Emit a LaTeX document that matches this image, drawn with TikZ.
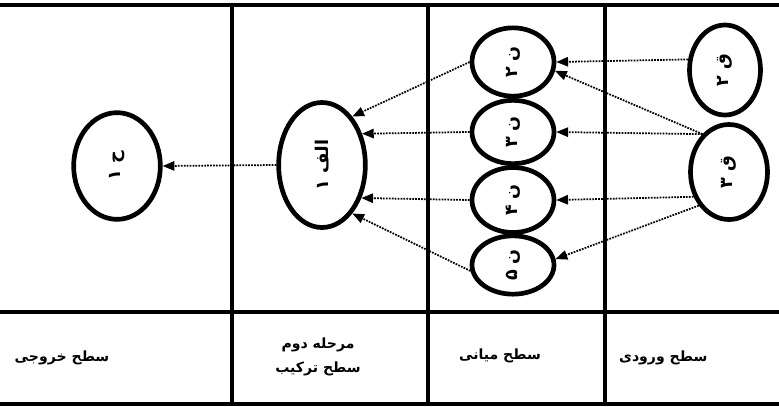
\documentclass[tikz,border=0pt]{standalone}
\usepackage{fontspec}
\usepackage{graphicx}
\usepackage{tikz}
\usetikzlibrary{arrows.meta, shapes.geometric, positioning}
\newfontfamily\arabicfont[Script=Arabic]{DejaVu Sans}
\TeXXeTstate=1
\newcommand{\rl}[1]{\beginR #1\endR}
\newcommand{\vlabel}[1]{\rotatebox{90}{\rl{#1}}}

\tikzset{
  cellline/.style={line width=2.8pt},
  bubble/.style={ellipse, draw, line width=4pt, inner sep=0pt,
    font=\arabicfont\bfseries\fontsize{15}{17}\selectfont},
  link/.style={densely dotted, line width=1.5pt,
    -{Triangle[length=10pt,width=8pt]}},
  levelname/.style={font=\arabicfont\bfseries\fontsize{12}{14}\selectfont, align=center}
}

\begin{document}
\begin{tikzpicture}[x=0.03cm, y=-0.03cm]
    \useasboundingbox (0,0) rectangle (779,406);

    % table lines
    \draw[cellline] (0,5) -- (779,5);
    \draw[cellline] (0,312) -- (779,312);
    \draw[cellline] (0,404) -- (779,404);
    \foreach \gx in {232, 428, 605}
        \draw[cellline] (\gx,5) -- (\gx,404);

    % first column
    \node[bubble, minimum width=2.6cm, minimum height=3.2cm] (r1) at (117,166) {\vlabel{ح ۱}};

    % second column
    \node[bubble, minimum width=2.6cm, minimum height=3.75cm] (a1) at (322,165) {\vlabel{الف ۱}};

    % third column
    \node[bubble, minimum width=2.46cm, minimum height=2.05cm] (n2) at (513,62) {\vlabel{ن ۲}};
    \node[bubble, minimum width=2.46cm, minimum height=1.9cm] (n3) at (513,132) {\vlabel{ن ۳}};
    \node[bubble, minimum width=2.46cm, minimum height=1.95cm] (n4) at (513,200) {\vlabel{ن ۴}};
    \node[bubble, minimum width=2.46cm, minimum height=1.75cm] (n5) at (513,265) {\vlabel{ن ۵}};

    % fourth column
    \node[bubble, minimum width=2.13cm, minimum height=2.7cm] (q2) at (725,70) {\vlabel{ق ۲}};
    \node[bubble, minimum width=2.31cm, minimum height=2.85cm] (q3) at (729,172) {\vlabel{ق ۳}};

    % links
    \draw[link] (q2.164) -- (n2.east);
    \draw[link] (q3.125) -- (n2.-12);
    \draw[link] (q3.125) -- (n3.east);
    \draw[link] (q3.215) -- (n4.east);
    \draw[link] (q3.228) -- (n5.8);

    \draw[link] (n2.west) -- (a1.58);
    \draw[link] (n3.west) -- (a1.38);
    \draw[link] (n4.west) -- (a1.-40);
    \draw[link] (n5.188) -- (a1.-58);

    \draw[link] (a1.west) -- (r1.east);

    % level names
    \node[levelname] (t1) at (62,358) {\rl{سطح خروجی}};
    \node[levelname] (t2) at (318,357) {\rl{مرحله دوم}\\[7pt]\rl{سطح ترکیب}};
    \node[levelname] (t3) at (500,356) {\rl{سطح میانی}};
    \node[levelname, anchor=west] (t4) at (615,358) {\rl{سطح ورودی}};
\end{tikzpicture}
\end{document}
